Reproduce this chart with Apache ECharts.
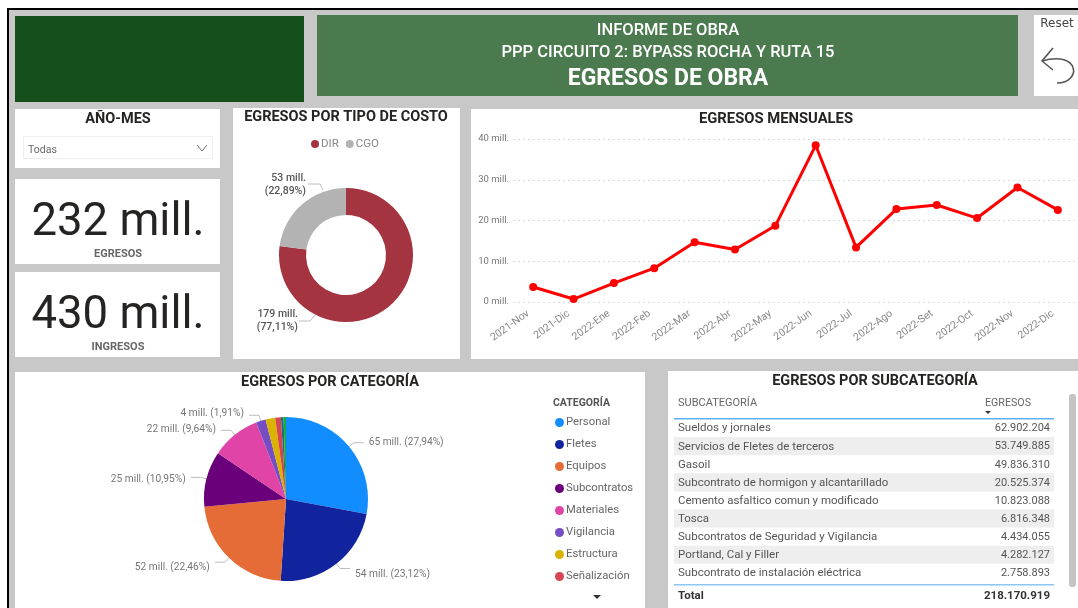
<!DOCTYPE html>
<html>
<head>
<meta charset="utf-8">
<title>Egresos de obra</title>
<script src="https://cdn.jsdelivr.net/npm/echarts@6/dist/echarts.min.js"></script>
<style>
html, body { margin: 0; padding: 0; background: #fff; overflow: hidden; }
#chart { width: 1078px; height: 608px; }
</style>
</head>
<body>
<div id="chart"></div>
<script>
const months = ['2021-Nov', '2021-Dic', '2022-Ene', '2022-Feb', '2022-Mar', '2022-Abr', '2022-May', '2022-Jun', '2022-Jul', '2022-Ago', '2022-Set', '2022-Oct', '2022-Nov', '2022-Dic'];
const monthly = [3.67, 0.73, 4.64, 8.3, 14.66, 12.87, 18.7, 38.45, 13.4, 22.8, 23.8, 20.6, 28.1, 22.6];
const yTicks = [0, 10, 20, 30, 40];

const costTypes = ['DIR', 'CGO'];
const costValues = [179, 53];
const costPct = ['77,11%', '22,89%'];
const costColors = ['#a4343f', '#b3b3b3'];

const categories = ['Personal', 'Fletes', 'Equipos', 'Subcontratos', 'Materiales', 'Vigilancia', 'Estructura', 'Señalización', 'Otros A', 'Otros B'];
const catValues = [64.8, 53.6, 52.1, 25.4, 22.4, 4.43, 4.4, 2.6, 1.2, 1.1];
const catLabels = ['65 mill. (27,94%)', '54 mill. (23,12%)', '52 mill. (22,46%)', '25 mill. (10,95%)', '22 mill. (9,64%)', '4 mill. (1,91%)'];
const catColors = ['#118dff', '#12239e', '#e66c37', '#6b007b', '#e044a7', '#744ec2', '#d9b300', '#d64550', '#197278', '#1aab40'];

const subcats = ['Sueldos y jornales', 'Servicios de Fletes de terceros', 'Gasoil', 'Subcontrato de hormigon y alcantarillado', 'Cemento asfaltico comun y modificado', 'Tosca', 'Subcontratos de Seguridad y Vigilancia', 'Portland, Cal y Filler', 'Subcontrato de instalación eléctrica'];
const subcatValues = ['62.902.204', '53.749.885', '49.836.310', '20.525.374', '10.823.088', '6.816.348', '4.434.055', '4.282.127', '2.758.893'];
const subcatTotal = '218.170.919';

const FONT = 'Roboto';
const TITLE = '#252423';
const MUTED = '#666';

function rect(x, y, w, h, fill, z) {
  return { type: 'rect', silent: true, z: z || 0, shape: { x: x, y: y, width: w, height: h }, style: { fill: fill } };
}
function text(x, y, str, size, color, opt) {
  opt = opt || {};
  return {
    type: 'text', silent: true, z: 5, x: x, y: y,
    style: {
      text: str, fontFamily: opt.font || FONT, fontSize: size, fontWeight: opt.weight || 'normal',
      fill: color, align: opt.align || 'center', verticalAlign: 'middle'
    }
  };
}

const ICON = { stroke: '#555', fill: null, lineWidth: 1.6 };
const graphics = [
  rect(7, 8, 1071, 600, '#000'),
  rect(9, 10, 1069, 598, '#c8c8c8'),
  rect(15, 16, 289, 86, '#15501c'),
  rect(317, 15, 701, 81, '#4b7a4f'),
  rect(1034, 15, 44, 81, '#fff'),
  rect(15, 109, 205, 59, '#fff'),
  rect(15, 179, 205, 85, '#fff'),
  rect(15, 272, 205, 85, '#fff'),
  rect(233, 108, 227, 251, '#fff'),
  rect(471, 109, 607, 250, '#fff'),
  rect(15, 372, 630, 236, '#fff'),
  rect(668, 371, 410, 237, '#fff'),
  text(668, 31, 'INFORME DE OBRA', 16.5, '#fff', { weight: 500 }),
  text(668, 53, 'PPP CIRCUITO 2: BYPASS ROCHA Y RUTA 15', 16.5, '#fff', { weight: 500 }),
  text(668, 79, 'EGRESOS DE OBRA', 23, '#fff', { weight: 700 }),
  text(1057, 24, 'Reset', 12, '#444', { font: 'DejaVu Sans' }),
  { type: 'polyline', silent: true, z: 5, shape: { points: [[1053, 48], [1042, 61], [1053, 70]] }, style: ICON },
  { type: 'bezierCurve', silent: true, z: 5, shape: { x1: 1042, y1: 61, cpx1: 1080, cpy1: 50, cpx2: 1082, cpy2: 83, x2: 1057, y2: 83 }, style: ICON },
  text(118, 119, 'AÑO-MES', 14.5, TITLE, { weight: 700 }),
  { type: 'rect', silent: true, z: 1, shape: { x: 23.5, y: 136.5, width: 189, height: 22 }, style: { fill: '#fff', stroke: '#eee' } },
  text(28, 150, 'Todas', 10.5, MUTED, { align: 'left' }),
  { type: 'polyline', silent: true, z: 5, shape: { points: [[197, 145], [202, 151], [207, 145]] }, style: { stroke: '#777', fill: null, lineWidth: 1 } },
  text(118, 224, '232 mill.', 45.5, '#252423', { weight: 400 }),
  text(118, 254, 'EGRESOS', 11, '#666', { weight: 700 }),
  text(118, 317, '430 mill.', 45.5, '#252423', { weight: 400 }),
  text(118, 347, 'INGRESOS', 11, '#666', { weight: 700 }),
  text(346, 117, 'EGRESOS POR TIPO DE COSTO', 14.5, TITLE, { weight: 700 }),
  text(776, 119, 'EGRESOS MENSUALES', 14.8, TITLE, { weight: 700 }),
  text(330, 382, 'EGRESOS POR CATEGORÍA', 14.5, TITLE, { weight: 700 }),
  text(875, 381, 'EGRESOS POR SUBCATEGORÍA', 14.5, TITLE, { weight: 700 }),
  text(553, 403, 'CATEGORÍA', 10.5, '#555', { align: 'left', weight: 700 }),
  { type: 'polygon', silent: true, z: 5, shape: { points: [[593, 595], [601, 595], [597, 599]] }, style: { fill: '#333' } },
  text(678, 403, 'SUBCATEGORÍA', 11, MUTED, { align: 'left' }),
  text(985, 403, 'EGRESOS', 10.7, MUTED, { align: 'left' }),
  { type: 'polygon', silent: true, z: 5, shape: { points: [[985, 411], [991, 411], [988, 414]] }, style: { fill: '#333' } },
  rect(674, 418, 380, 1.5, '#5fb0f5', 3),
  rect(674, 584, 380, 1.5, '#8cc6f7', 3),
  { type: 'rect', silent: true, z: 3, shape: { x: 1069, y: 394, width: 7, height: 193, r: 3 }, style: { fill: '#c4c4c4' } },
  text(678, 596, 'Total', 11.5, '#333', { align: 'left', weight: 700 }),
  text(1050, 596, subcatTotal, 11.5, '#333', { align: 'right', weight: 700 })
];

// filas de la tabla
const rowTop = 419.5;
const rowH = 18.1;
subcats.forEach(function (name, i) {
  const y = rowTop + i * rowH;
  if (i % 2 === 1) graphics.push(rect(674, y - 0.5, 380, rowH, '#eeeeee', 1));
  graphics.push(text(678, y + rowH / 2, name, 11.5, '#555', { align: 'left' }));
  graphics.push(text(1050, y + rowH / 2, subcatValues[i], 11, '#555', { align: 'right' }));
});

// etiquetas del anillo, a la izquierda como en el original
const donutLabelSpots = [
  { x: 298, y: 321, line: [[299, 321], [310, 321], [315, 315]] },
  { x: 306, y: 185, line: [[308, 184], [320, 184], [323, 190]] }
];
// ajuste vertical de las etiquetas de la torta
const pieLabelDy = [0, 6, 5, 2, -1, -2];

const chart = echarts.init(document.getElementById('chart'), null, { renderer: 'canvas' });
chart.setOption({
  animation: false,
  textStyle: { fontFamily: FONT },
  graphic: { elements: graphics },
  legend: [
    {
      data: costTypes, left: 306, top: 133, orient: 'horizontal', icon: 'circle',
      itemWidth: 8, itemHeight: 8, itemGap: 7,
      textStyle: { fontSize: 11.5, color: '#888', padding: [0, 0, 0, -3] }
    },
    {
      data: categories.slice(0, 8), left: 550, top: 412, orient: 'vertical', icon: 'circle',
      itemWidth: 9, itemHeight: 9, itemGap: 11,
      textStyle: { fontSize: 11.3, color: '#666', padding: [0, 0, 0, -3] }
    }
  ],
  grid: { left: 513, right: -2, top: 139, bottom: 306, containLabel: false },
  xAxis: {
    type: 'category', data: months,
    axisLine: { show: false }, axisTick: { show: false },
    axisLabel: { rotate: 36, fontSize: 10.5, color: '#888', interval: 0, margin: 7, padding: [0, 6, 0, 0] }
  },
  yAxis: {
    type: 'value', min: yTicks[0], max: yTicks[yTicks.length - 1], interval: 10,
    axisLabel: { fontSize: 9.5, color: '#777', formatter: '{value} mill.', margin: 4 },
    splitLine: { lineStyle: { color: '#dcdcdc', type: [2, 3] } }
  },
  series: [
    {
      type: 'line', data: monthly, symbol: 'circle', symbolSize: 8,
      lineStyle: { color: '#ff0000', width: 3 }, itemStyle: { color: '#ff0000' }
    },
    {
      type: 'pie', center: [346, 255], radius: [40, 67], startAngle: 90,
      data: costTypes.map(function (n, i) {
        return { name: n, value: costValues[i], itemStyle: { color: costColors[i] } };
      }),
      label: {
        color: '#555', fontSize: 10.5, fontWeight: 500, lineHeight: 13, align: 'right',
        formatter: function (p) { return costValues[p.dataIndex] + ' mill.\n(' + costPct[p.dataIndex] + ')'; }
      },
      labelLine: { length: 6, length2: 8, lineStyle: { color: '#bbb' } },
      labelLayout: function (p) {
        const s = donutLabelSpots[p.dataIndex];
        return { x: s.x, y: s.y, align: 'right', verticalAlign: 'middle', labelLinePoints: s.line };
      }
    },
    {
      type: 'pie', center: [286, 499], radius: [0, 82], startAngle: 90,
      data: categories.map(function (n, i) {
        const d = { name: n, value: catValues[i], itemStyle: { color: catColors[i] } };
        if (!catLabels[i]) { d.label = { show: false }; d.labelLine = { show: false }; }
        return d;
      }),
      label: {
        color: '#777', fontSize: 10.2,
        formatter: function (p) { return catLabels[p.dataIndex] || ''; }
      },
      labelLine: { length: 6, length2: 10, lineStyle: { color: '#bbb' } },
      labelLayout: function (p) {
        return { dy: pieLabelDy[p.dataIndex] || 0 };
      }
    }
  ]
});
</script>
</body>
</html>
